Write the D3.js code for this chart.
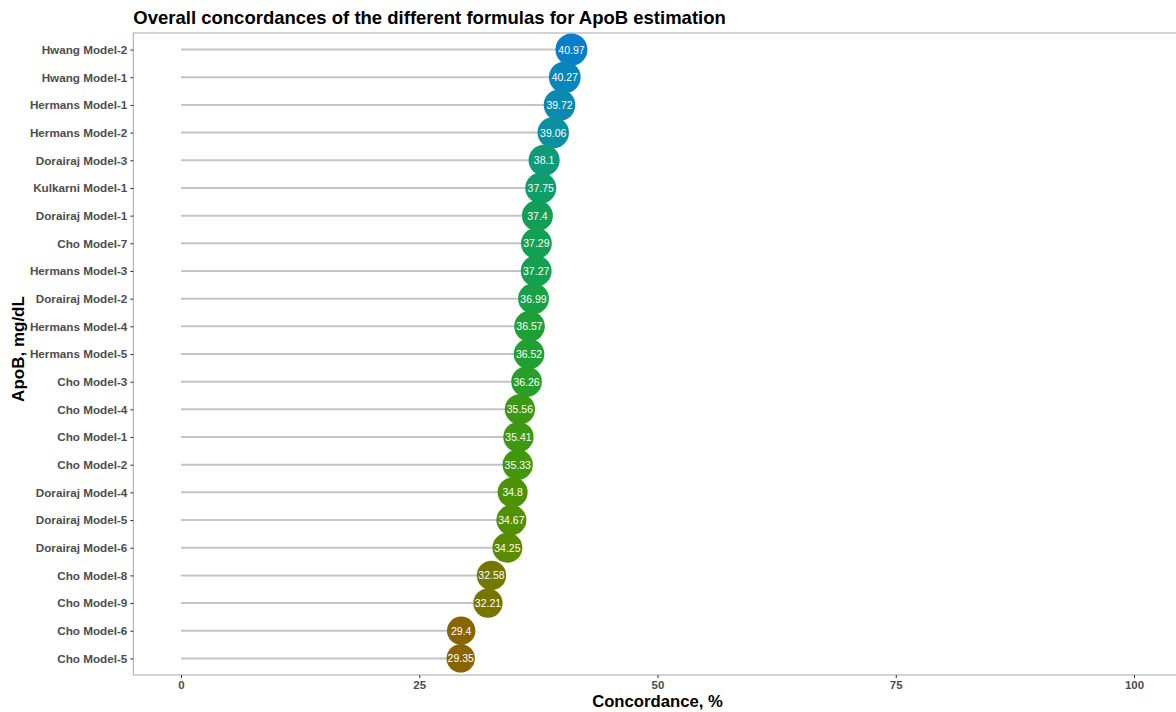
<!DOCTYPE html>
<html>
<head>
<meta charset="utf-8">
<script src="https://cdn.jsdelivr.net/npm/d3@7"></script>
<style>
  html, body { margin: 0; padding: 0; background: #fff; }
  svg { display: block; font-family: "Liberation Sans", Arial, Helvetica, sans-serif; }
</style>
</head>
<body>
<svg id="chart" width="1176" height="712"></svg>
<script>
const models = [
  "Hwang Model-2", "Hwang Model-1", "Hermans Model-1", "Hermans Model-2",
  "Dorairaj Model-3", "Kulkarni Model-1", "Dorairaj Model-1", "Cho Model-7",
  "Hermans Model-3", "Dorairaj Model-2", "Hermans Model-4", "Hermans Model-5",
  "Cho Model-3", "Cho Model-4", "Cho Model-1", "Cho Model-2",
  "Dorairaj Model-4", "Dorairaj Model-5", "Dorairaj Model-6", "Cho Model-8",
  "Cho Model-9", "Cho Model-6", "Cho Model-5"
];
const concordance = [
  40.97, 40.27, 39.72, 39.06,
  38.1, 37.75, 37.4, 37.29,
  37.27, 36.99, 36.57, 36.52,
  36.26, 35.56, 35.41, 35.33,
  34.8, 34.67, 34.25, 32.58,
  32.21, 29.4, 29.35
];
const xTicks = [0, 25, 50, 75, 100];
const colorStops = [29.35, 32.4, 34.5, 35.5, 36.5, 37.3, 38.1, 39.06, 40.97];
const colorValues = ["#8a6400", "#767600", "#568e00", "#3c9a12", "#20a032", "#12a052", "#0d9b7a", "#0a90a0", "#0a7ec8"];

const data = models.map((m, i) => ({ model: m, value: concordance[i] }));

const svg = d3.select("#chart");
const panel = { left: 133.35, right: 1181.65, top: 33, bottom: 675 };

const x = d3.scaleLinear().domain([-5, 105]).range([panel.left, panel.right]);
const y = d3.scalePoint().domain(models).range([panel.top, panel.bottom]).padding(0.6);
const color = d3.scaleLinear().domain(colorStops).range(colorValues).interpolate(d3.interpolateRgb);
const r = d3.scaleLinear().domain([29.35, 40.97]).range([14.2, 16]);

// panel border
svg.append("rect")
  .attr("x", panel.left).attr("y", panel.top)
  .attr("width", panel.right - panel.left).attr("height", panel.bottom - panel.top)
  .attr("fill", "none").attr("stroke", "#b0b0b0").attr("stroke-width", 1.1);

// axes
const xAxis = d3.axisBottom(x).tickValues(xTicks).tickSize(3).tickPadding(3).tickFormat(d3.format("d"));
const gx = svg.append("g").attr("transform", `translate(0,${panel.bottom})`).call(xAxis);
gx.select(".domain").remove();
gx.selectAll(".tick line").attr("stroke", "#333").attr("stroke-width", 1);
gx.selectAll(".tick text").attr("fill", "#4d4d4d").style("font-size", "11.5px").style("font-weight", "bold");

const yAxis = d3.axisLeft(y).tickSize(3).tickPadding(3);
const gy = svg.append("g").attr("transform", `translate(${panel.left},0)`).call(yAxis);
gy.select(".domain").remove();
gy.selectAll(".tick line").attr("stroke", "#333").attr("stroke-width", 1);
gy.selectAll(".tick text").attr("fill", "#4d4d4d").style("font-size", "11.7px").style("font-weight", "bold");

// segments
svg.append("g").selectAll("line").data(data).join("line")
  .attr("x1", x(0)).attr("x2", d => x(d.value))
  .attr("y1", d => y(d.model)).attr("y2", d => y(d.model))
  .attr("stroke", "#c4c4c4").attr("stroke-width", 2);

// circles
svg.append("g").selectAll("circle").data(data).join("circle")
  .attr("cx", d => x(d.value)).attr("cy", d => y(d.model))
  .attr("r", d => r(d.value))
  .attr("fill", d => color(d.value));

// value labels
svg.append("g").selectAll("text").data(data).join("text")
  .attr("x", d => x(d.value)).attr("y", d => y(d.model))
  .attr("text-anchor", "middle").attr("dominant-baseline", "central")
  .attr("fill", "#ffffff").style("font-size", "10.5px")
  .text(d => d.value);

// title
svg.append("text").attr("x", panel.left).attr("y", 24)
  .style("font-size", "18.5px").style("font-weight", "bold").attr("fill", "#000")
  .text("Overall concordances of the different formulas for ApoB estimation");

// axis titles
svg.append("text").attr("x", x(50)).attr("y", 707)
  .attr("text-anchor", "middle").style("font-size", "16.7px").style("font-weight", "bold").attr("fill", "#000")
  .text("Concordance, %");

svg.append("text")
  .attr("transform", `translate(24,${(panel.top + panel.bottom) / 2 - 5}) rotate(-90)`)
  .attr("text-anchor", "middle").style("font-size", "17px").style("font-weight", "bold").attr("fill", "#000")
  .text("ApoB, mg/dL");
</script>
</body>
</html>
